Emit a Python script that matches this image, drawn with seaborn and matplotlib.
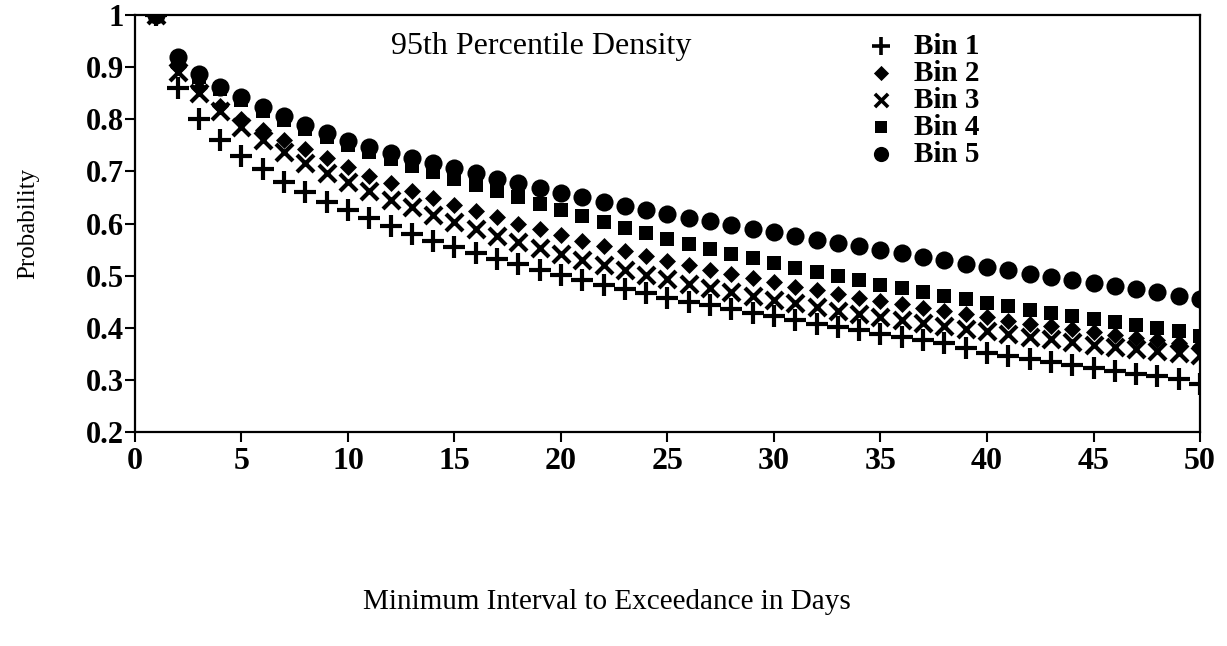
import matplotlib
matplotlib.use("Agg")
import matplotlib.pyplot as plt
import seaborn as sns
import pandas as pd

# Minimum interval to exceedance (days)
days = list(range(1, 51))

# Probability of each bin's exceedance interval being at least N days
bin1 = [1.0, 0.86, 0.80, 0.76, 0.73, 0.705, 0.68, 0.66, 0.642, 0.625,
        0.61, 0.595, 0.58, 0.567, 0.555, 0.543, 0.532, 0.522, 0.511, 0.501,
        0.492, 0.483, 0.474, 0.466, 0.458, 0.45, 0.443, 0.436, 0.429, 0.422,
        0.415, 0.408, 0.401, 0.395, 0.389, 0.383, 0.377, 0.371, 0.362, 0.352,
        0.346, 0.340, 0.335, 0.329, 0.323, 0.318, 0.312, 0.307, 0.301, 0.292]
bin2 = [1.0, 0.90, 0.86, 0.825, 0.80, 0.78, 0.76, 0.742, 0.725, 0.708,
        0.692, 0.677, 0.663, 0.649, 0.636, 0.624, 0.612, 0.600, 0.589, 0.578,
        0.567, 0.557, 0.547, 0.538, 0.529, 0.520, 0.511, 0.503, 0.495, 0.487,
        0.479, 0.472, 0.465, 0.458, 0.451, 0.445, 0.439, 0.432, 0.426, 0.420,
        0.414, 0.408, 0.403, 0.397, 0.392, 0.386, 0.381, 0.376, 0.371, 0.366]
bin3 = [1.0, 0.89, 0.85, 0.815, 0.785, 0.76, 0.737, 0.716, 0.697, 0.679,
        0.662, 0.646, 0.631, 0.616, 0.602, 0.589, 0.576, 0.564, 0.553, 0.542,
        0.531, 0.521, 0.511, 0.502, 0.493, 0.484, 0.476, 0.468, 0.461, 0.454,
        0.447, 0.440, 0.433, 0.427, 0.421, 0.415, 0.409, 0.403, 0.398, 0.393,
        0.388, 0.383, 0.378, 0.373, 0.368, 0.364, 0.360, 0.355, 0.351, 0.347]
bin4 = [1.0, 0.91, 0.88, 0.857, 0.836, 0.816, 0.798, 0.782, 0.766, 0.751,
        0.737, 0.724, 0.711, 0.698, 0.686, 0.674, 0.662, 0.650, 0.638, 0.626,
        0.614, 0.603, 0.592, 0.581, 0.571, 0.561, 0.551, 0.542, 0.533, 0.524,
        0.515, 0.507, 0.499, 0.491, 0.483, 0.476, 0.469, 0.462, 0.455, 0.448,
        0.441, 0.435, 0.429, 0.423, 0.417, 0.411, 0.405, 0.399, 0.393, 0.384]
bin5 = [1.0, 0.92, 0.887, 0.862, 0.842, 0.823, 0.806, 0.789, 0.773, 0.759,
        0.747, 0.736, 0.726, 0.716, 0.706, 0.696, 0.686, 0.677, 0.668, 0.659,
        0.650, 0.642, 0.634, 0.626, 0.619, 0.611, 0.604, 0.597, 0.590, 0.583,
        0.576, 0.569, 0.562, 0.556, 0.549, 0.543, 0.536, 0.530, 0.523, 0.517,
        0.511, 0.504, 0.498, 0.492, 0.486, 0.480, 0.474, 0.468, 0.462, 0.456]

series_names = ["Bin 1", "Bin 2", "Bin 3", "Bin 4", "Bin 5"]
series_values = [bin1, bin2, bin3, bin4, bin5]

x_ticks = [0, 5, 10, 15, 20, 25, 30, 35, 40, 45, 50]
y_ticks = [0.2, 0.3, 0.4, 0.5, 0.6, 0.7, 0.8, 0.9, 1.0]
y_tick_labels = ["0.2", "0.3", "0.4", "0.5", "0.6", "0.7", "0.8", "0.9", "1"]

sns.set_theme(style="white")
plt.rcParams["font.family"] = ["Liberation Serif", "DejaVu Serif"]
plt.rcParams["text.color"] = "black"
plt.rcParams["axes.labelcolor"] = "black"
plt.rcParams["xtick.color"] = "black"
plt.rcParams["ytick.color"] = "black"

fig = plt.figure(figsize=(12.27, 6.46), dpi=100)
ax = fig.add_axes([0.110, 0.331, 0.868, 0.646])

marker_styles = {
    "Bin 1": dict(marker="+", s=260, linewidth=3.0),
    "Bin 2": dict(marker="D", s=75, linewidth=0),
    "Bin 3": dict(marker="x", s=150, linewidth=3.0),
    "Bin 4": dict(marker="s", s=110, linewidth=0),
    "Bin 5": dict(marker="o", s=170, linewidth=0),
}
legend_sizes = {"Bin 1": 150, "Bin 2": 60, "Bin 3": 90, "Bin 4": 70, "Bin 5": 120}

for name, vals in zip(series_names, series_values):
    df = pd.DataFrame({"day": days, "prob": vals})
    sns.scatterplot(data=df, x="day", y="prob", ax=ax, color="black",
                    label=name, zorder=3, **marker_styles[name])

ax.set_xlim(0, 50)
ax.set_ylim(0.2, 1.0)
ax.set_xticks(x_ticks)
ax.set_xticklabels([str(t) for t in x_ticks])
ax.set_yticks(y_ticks)
ax.set_yticklabels(y_tick_labels)

for side in ["left", "bottom", "top", "right"]:
    ax.spines[side].set_visible(True)
    ax.spines[side].set_color("black")
    ax.spines[side].set_linewidth(1.6)

ax.tick_params(axis="both", which="both", direction="out", color="black",
               length=7, width=1.5, bottom=True, left=True,
               top=False, right=False)
ax.tick_params(axis="y", pad=1, labelsize=22)
ax.tick_params(axis="x", pad=4, labelsize=23)
for lab in ax.get_xticklabels() + ax.get_yticklabels():
    lab.set_fontweight("bold")

ax.set_xlabel("Minimum Interval to Exceedance in Days", fontsize=21,
              va="center", ha="center")
ax.xaxis.set_label_coords(0.443, -0.408)
ax.set_ylabel("Probability", fontsize=18, va="center", ha="center")
ax.yaxis.set_label_coords(-0.1005, 0.5)

ax.text(0.24, 0.925, "95th Percentile Density", transform=ax.transAxes,
        ha="left", va="center", fontsize=23)

leg = ax.legend(loc="upper left", bbox_to_anchor=(0.673, 0.985), frameon=False,
                fontsize=21, handletextpad=0.55, labelspacing=0.0,
                borderaxespad=0, handlelength=1.2)
for txt in leg.get_texts():
    txt.set_fontweight("bold")
for h, name in zip(leg.legend_handles, series_names):
    h.set_sizes([legend_sizes[name]])
    if name in ("Bin 1", "Bin 3"):
        h.set_linewidths([2.6])

fig.savefig("out.png", dpi=100, facecolor="white")
